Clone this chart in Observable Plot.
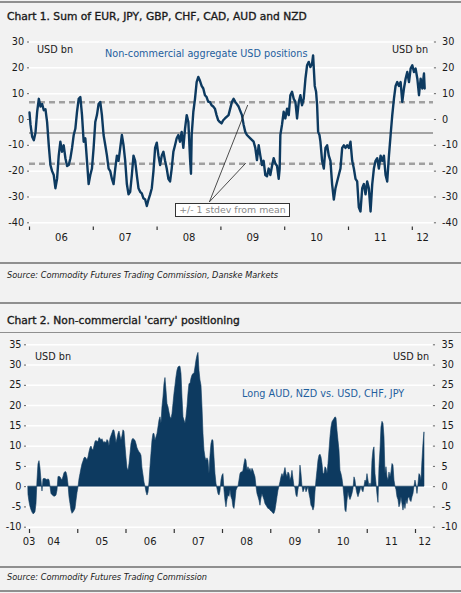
<!DOCTYPE html>
<html><head><meta charset="utf-8">
<script src="https://cdn.jsdelivr.net/npm/d3@7"></script>
<script src="https://cdn.jsdelivr.net/npm/@observablehq/plot@0.6"></script>
<style>
html,body{margin:0;padding:0;background:#f2f2f2;}
#page{position:relative;width:461px;height:593px;overflow:hidden;font-family:"DejaVu Sans",sans-serif;color:#1a1a1a;}
.abs{position:absolute;white-space:nowrap;}
.rule{position:absolute;left:0;width:461px;height:1.5px;background:#8f8f8f;}
.title{font-size:10.7px;line-height:11px;-webkit-text-stroke:0.35px #1a1a1a;}
.src{font-size:8.2px;font-style:italic;line-height:9px;}
.lab{font-size:9.7px;line-height:10px;}
.blue{color:#1f5f9e;}
.note{position:absolute;left:175px;top:203px;width:113px;height:12px;border:1px solid #333;background:#fff;color:#8a8a8a;font-size:9.4px;line-height:12px;text-align:center;}
</style></head>
<body><div id="page">
<div class="rule" style="top:1px"></div>
<div class="abs title" style="left:7px;top:10.5px">Chart 1. Sum of EUR, JPY, GBP, CHF, CAD, AUD and NZD</div>
<div class="abs lab" style="left:37px;top:44.5px">USD bn</div>
<div class="abs lab blue" style="left:105px;top:49px">Non-commercial aggregate USD positions</div>
<div class="abs lab" style="left:392px;top:44.5px">USD bn</div>
<div class="rule" style="top:262px"></div>
<div class="abs src" style="left:7px;top:270.5px">Source: Commodity Futures Trading Commission, Danske Markets</div>
<div class="rule" style="top:302px"></div>
<div class="abs title" style="left:7px;top:314.5px">Chart 2. Non-commercial 'carry' positioning</div>
<div class="rule" style="top:331.5px"></div>
<div class="abs lab" style="left:35px;top:352px">USD bn</div>
<div class="abs lab" style="left:393px;top:352px">USD bn</div>
<div class="abs lab blue" style="left:242px;top:389px">Long AUD, NZD vs. USD, CHF, JPY</div>
<div class="rule" style="top:566px"></div>
<div class="abs src" style="left:7px;top:572.5px">Source: Commodity Futures Trading Commission</div>
<div class="rule" style="top:590px"></div>
</div>
<script>
// ---------- Chart 1 data ----------
const c1Years = [2006.000,2006.016,2006.042,2006.068,2006.094,2006.120,2006.146,2006.172,2006.198,2006.224,2006.250,2006.276,2006.302,2006.328,2006.354,2006.380,2006.406,2006.432,2006.458,2006.484,2006.510,2006.536,2006.563,2006.589,2006.615,2006.641,2006.667,2006.693,2006.719,2006.745,2006.771,2006.797,2006.823,2006.849,2006.875,2006.901,2006.927,2006.953,2006.979,
2007.005,2007.031,2007.057,2007.083,2007.109,2007.135,2007.161,2007.188,2007.214,2007.240,2007.266,2007.292,2007.318,2007.344,2007.370,2007.396,2007.422,2007.448,2007.474,2007.500,2007.526,2007.552,2007.578,2007.604,2007.630,2007.656,2007.682,2007.708,2007.734,2007.760,2007.786,2007.813,2007.839,2007.865,2007.891,2007.917,2007.943,2007.969,2007.995,
2008.021,2008.047,2008.073,2008.099,2008.125,2008.151,2008.177,2008.203,2008.229,2008.255,2008.281,2008.307,2008.333,2008.359,2008.385,2008.411,2008.438,2008.464,2008.490,2008.516,2008.531,2008.542,2008.568,2008.594,2008.620,2008.646,2008.672,2008.698,2008.724,2008.750,2008.776,2008.802,2008.828,2008.854,2008.880,2008.906,2008.932,2008.958,2008.984,
2009.010,2009.036,2009.063,2009.120,2009.173,2009.199,2009.225,2009.277,2009.330,2009.356,2009.382,2009.408,2009.461,2009.513,2009.539,2009.565,2009.592,2009.618,2009.644,2009.670,2009.696,2009.723,2009.749,2009.775,2009.801,2009.827,2009.853,2009.880,2009.906,2009.921,2009.932,2009.958,2009.984,
2010.010,2010.037,2010.063,2010.089,2010.115,2010.141,2010.168,2010.194,2010.220,2010.246,2010.272,2010.298,2010.325,2010.351,2010.377,2010.403,2010.429,2010.445,2010.471,2010.492,2010.508,2010.524,2010.545,2010.560,2010.586,2010.613,2010.639,2010.665,2010.691,2010.717,2010.743,2010.770,2010.796,2010.822,2010.848,2010.874,2010.901,2010.927,2010.953,2010.979,
2011.005,2011.031,2011.058,2011.084,2011.110,2011.136,2011.162,2011.188,2011.215,2011.241,2011.267,2011.293,2011.319,2011.346,2011.372,2011.398,2011.424,2011.450,2011.476,2011.503,2011.529,2011.555,2011.581,2011.607,2011.634,2011.660,2011.686,2011.712,2011.738,2011.764,2011.791,2011.817,2011.843,2011.869,2011.895,2011.921,2011.948,2011.974,
2012.000,2012.026,2012.052,2012.079,2012.105,2012.131,2012.157,2012.183,2012.194];
const c1Values = [2.7,-2,-6.7,-8,-5,3,8,5,6,3.6,4,-1,-10,-17.6,-20,-21.5,-26.6,-23,-14,-8.6,-12.5,-10,-15,-18,-17.6,-15,-11,-6,-3.5,3,8,8.7,1.7,-8.6,-7.3,-16,-25,-21.5,-19,
-11,-1,1.7,6,6.8,1.7,-6,-10,-14,-19,-20,-23,-25,-19,-14,-16,-11,-6,-10,-16,-25,-29,-28,-21.5,-14,-16,-21.5,-26.6,-28,-28.6,-30.5,-31,-33.5,-31,-29,-26.6,-20,-11,-9,
-14,-17.6,-14,-12.5,-16,-19,-23,-24,-19,-12.5,-10,-7.3,-6,-8.6,-4.8,-11,-3.5,1.7,-1,-15,-21,-6,3,8,14.5,16.5,15,13,12,9.4,8.7,6.8,6.8,5.5,5,4.2,1.7,-0.3,-1,
-1.5,-0.3,0.4,1.7,6.8,8,6.8,5,1.7,-2,-4.8,-6,-7.3,-8.6,-11,-15.7,-10,-14,-17.6,-16,-21.5,-22,-19,-21.5,-18,-15,-17,-18,-23,-19,-6,-2,3,
0.4,4.2,1.7,9.4,10.7,8,6.8,0.4,6.8,9.4,5.5,8,15.8,21,22.3,20.3,21.6,24.8,13,10.7,5.5,-4.8,-6,-8.6,-16,-19,-11,-10,-14,-16,-25,-31,-26.6,-24,-21.5,-19,-11,-10,-11,-10,
-11,-8.6,-16,-19,-23,-24,-34,-35.6,-26.6,-25,-29,-24,-26.6,-35.6,-25,-19,-16,-15,-19,-14,-16,-14,-21.5,-24,-14,-6,1.7,8,13,14.5,13,14.5,6.8,12,15.8,18.4,14.5,19.7,
21,18.4,19.7,15.8,9.4,15.8,12,17.8,12];
const c1Mean = -5.2;
const c1Std = 11.9;
const c1YTicks = [-40,-30,-20,-10,0,10,20,30];
const c1XTicks = [2006,2007,2008,2009,2010,2011,2012];
const c1XLabelPos = [2006.5,2007.5,2008.5,2009.5,2010.5,2011.5,2012.16];
const c1XLabels = ["06","07","08","09","10","11","12"];
// annotation leader lines: from box to the two stdev bands
const c1NoteX1 = [2008.82, 2008.82];
const c1NoteY1 = [-31.9, -31.9];
const c1NoteX2 = [2009.42, 2009.39];
const c1NoteY2 = [5.6, -16.9];

// ---------- Chart 2 data (weekly-ish samples) ----------
const c2Start = 2003.979;
const c2Step = 0.020725;
const c2Values = [-2,-3.8,-5,-5.8,-6.4,-6.8,-6.7,-6.3,-4.3,1.5,5.5,6.3,4.5,1.5,-1.2,1.8,1.9,1.9,1.7,1.6,1.8,1.6,0,-1.8,-2.1,-2.3,-2.5,-2.4,-2.2,-1,
2.4,2.4,2.3,1.8,1.6,2.4,3.3,3.6,3.5,2.5,0.5,-2.6,-4.3,-5.9,-6.7,-6.4,-6,-5.5,-3.5,-1.6,-0.2,1.8,3.1,4.4,5.5,6.2,7,7.2,6.9,6.5,
7.2,8.5,9.5,9.9,9.2,8.9,10,11,11.3,11,11,12,11.8,11.4,11.7,11,10.8,11,10.7,11.5,11.2,10,11.8,12.5,13.2,13.9,13.8,12.5,10.7,11.8,
13,13.6,12.4,11.4,12.5,13.9,13.5,10,7,4.5,3.9,5.5,8,10.5,11.5,11.8,11.5,11.3,10.5,9.5,8.9,8.5,8.2,7.6,4.5,2.8,1,0,-1.4,-2.2,-1.5,1,
4.8,8.1,11.3,13,13,11.3,12.2,13,14.6,16.3,17.1,15.5,19.6,22,25.3,26.8,23.7,20.4,19.6,18.3,17.1,16.7,17.9,20.4,22.9,24.9,27,28.6,29.4,29.6,
29.6,27.8,22,17.1,16.3,15.5,17.1,19.6,22.9,25.3,25.3,26.6,27.4,27.8,27.8,29.4,31.1,32.3,33,28.6,26.2,24.9,19.6,13,8.9,7.2,6.4,7,6.4,3.1,
7.6,10.5,11.5,11.3,7.2,3.1,0.7,-0.6,-1.8,-2.2,-1.2,1.5,2.7,3.1,-1,-3.5,-5.1,-3.3,-2.2,-2.5,-0.8,-2.6,-3.3,-5.1,-5.5,-3.5,-1,-0.4,0,1.5,
3.1,3.5,3.5,3.9,5.6,6.8,6.4,3.9,4.8,3.9,4.4,3.5,4.4,3.9,3.1,2.3,0,-1.8,-2.6,-3.5,-4.7,-2.9,-1.8,-2.6,-3.3,-4.3,-4.7,-5.1,-5.5,-5.5,
-5.9,-6.1,-6.3,-6.7,-6.7,-5.9,-4.3,-2.6,-1,0,1.1,2.3,3.1,2.3,3.5,4.6,3.1,2.3,3.5,3.1,1.5,2.3,3.9,1.9,0,-0.4,-2.2,-2.6,-0.8,0.7,
5.2,3.1,0,-1.4,-0.8,0,-1.4,-0.8,0,-1.8,-3,-4.7,-5.1,-5.9,-5.1,-1.4,1.5,3.9,6.4,7.6,7.9,7.2,5.6,3.1,3.1,4.8,4.4,3.1,5.6,8.9,
12.2,14.6,15.9,16.3,16.7,17.1,16.9,13.8,11.3,8.9,3.9,3.1,1.9,0,-2.6,-5.9,-6.3,-3.5,-1.4,-2.6,-3.3,-2.6,-1.8,-0.6,2.3,1.5,-0.6,-1.8,-2.6,-1.8,
-1,0,-1,-1.4,0,1.5,1.1,3.1,1.5,0,0.8,0,6.4,8.9,9.7,3.1,0.8,-2,-4,4.8,8.9,14.6,16,15.5,12.2,3.1,4.8,2.3,1.5,3.5,
2.3,3.5,5.6,5.2,1.5,0,-0.8,-2.6,-3.3,-5.1,-4.3,-2.6,-4.3,-5.9,-4.3,-5.5,-3.3,-4.3,-2.9,-2.6,-3.5,-3.8,-2.6,-1.8,0,1.5,0.3,-1.8,0.6,3.1,
2.7,1.5,6.4,10.5,13.4];
const c2YTicks = [-10,-5,0,5,10,15,20,25,30,35];
const c2XTicks = [2004,2005,2006,2007,2008,2009,2010,2011,2012];
const c2XLabelPos = [2003.99,2004.5,2005.5,2006.5,2007.5,2008.5,2009.5,2010.5,2011.5,2012.19];
const c2XLabels = ["03","04","05","06","07","08","09","10","11","12"];

const navy = "#0d3a60";
const font = '"DejaVu Sans", sans-serif';
const page = document.getElementById("page");

const c1 = Plot.plot({
  width: 461, height: 285,
  marginLeft: 29, marginRight: 28, marginTop: 41.5, marginBottom: 58.5,
  style: {background: "transparent", fontFamily: font, fontSize: "9.7px", color: "#1a1a1a", overflow: "visible"},
  x: {type: "linear", domain: [2006, 2012], range: [29, 411.8]},
  y: {domain: [-40, 30], range: [222.3, 41.5]},
  marks: [
    Plot.gridY(c1YTicks, {stroke: "#ffffff", strokeOpacity: 1, strokeWidth: 1.5}),
    Plot.ruleY([c1Mean], {stroke: "#a3a3a3", strokeWidth: 2}),
    Plot.ruleY([c1Mean + c1Std, c1Mean - c1Std], {stroke: "#a0a0a0", strokeWidth: 2.5, strokeDasharray: "6,4"}),
    Plot.line(c1Values, {x: (d, i) => c1Years[i], y: d => d, stroke: navy, strokeWidth: 2.4, strokeLinejoin: "round"}),
    Plot.link(c1NoteX1, {x1: (d, i) => c1NoteX1[i], y1: (d, i) => c1NoteY1[i], x2: (d, i) => c1NoteX2[i], y2: (d, i) => c1NoteY2[i], stroke: "#222", strokeWidth: 0.8}),
    Plot.axisY(c1YTicks, {anchor: "left", tickSize: 2, tickPadding: 3.3, tickFormat: d => String(d), stroke: "#666"}),
    Plot.axisY(c1YTicks, {anchor: "right", tickSize: 2, tickPadding: 6.5, tickFormat: d => String(d), stroke: "#666"}),
    Plot.axisX(c1XTicks, {anchor: "bottom", tickSize: 3.5, tickFormat: () => "", stroke: "#333", strokeWidth: 1.2}),
    Plot.axisX(c1XLabelPos, {anchor: "bottom", tickSize: 0, tickPadding: 6.5, fontSize: 10, tickFormat: d => c1XLabels[c1XLabelPos.indexOf(d)]})
  ]
});
c1.style.position = "absolute"; c1.style.left = "0px"; c1.style.top = "0px";
page.appendChild(c1);

const c2 = Plot.plot({
  width: 461, height: 285,
  marginLeft: 26, marginRight: 29, marginTop: 44, marginBottom: 56,
  style: {background: "transparent", fontFamily: font, fontSize: "9.7px", color: "#1a1a1a", overflow: "visible"},
  x: {type: "linear", domain: [2004, 2012], range: [29, 415]},
  y: {domain: [-10, 35], range: [226.7, 44.3]},
  marks: [
    Plot.gridY(c2YTicks, {stroke: "#ffffff", strokeOpacity: 1, strokeWidth: 1.5}),
    Plot.areaY(c2Values, {x: (d, i) => c2Start + i * c2Step, y: d => d, fill: navy, stroke: navy, strokeWidth: 0.6}),
    Plot.axisY(c2YTicks, {anchor: "left", tickSize: 2, tickPadding: 3, tickFormat: d => String(d), stroke: "#666"}),
    Plot.axisY(c2YTicks, {anchor: "right", tickSize: 2, tickPadding: 7, tickFormat: d => String(d), stroke: "#666"}),
    Plot.axisX(c2XTicks, {anchor: "bottom", tickSize: 4, tickFormat: () => "", stroke: "#333", strokeWidth: 1.2}),
    Plot.axisX(c2XLabelPos, {anchor: "bottom", tickSize: 0, tickPadding: 8, fontSize: 10, tickFormat: d => c2XLabels[c2XLabelPos.indexOf(d)]})
  ]
});
c2.style.position = "absolute"; c2.style.left = "0px"; c2.style.top = "300px";
page.appendChild(c2);

const note = document.createElement("div");
note.className = "note";
note.textContent = "+/- 1 stdev from mean";
page.appendChild(note);
</script>
</body></html>
